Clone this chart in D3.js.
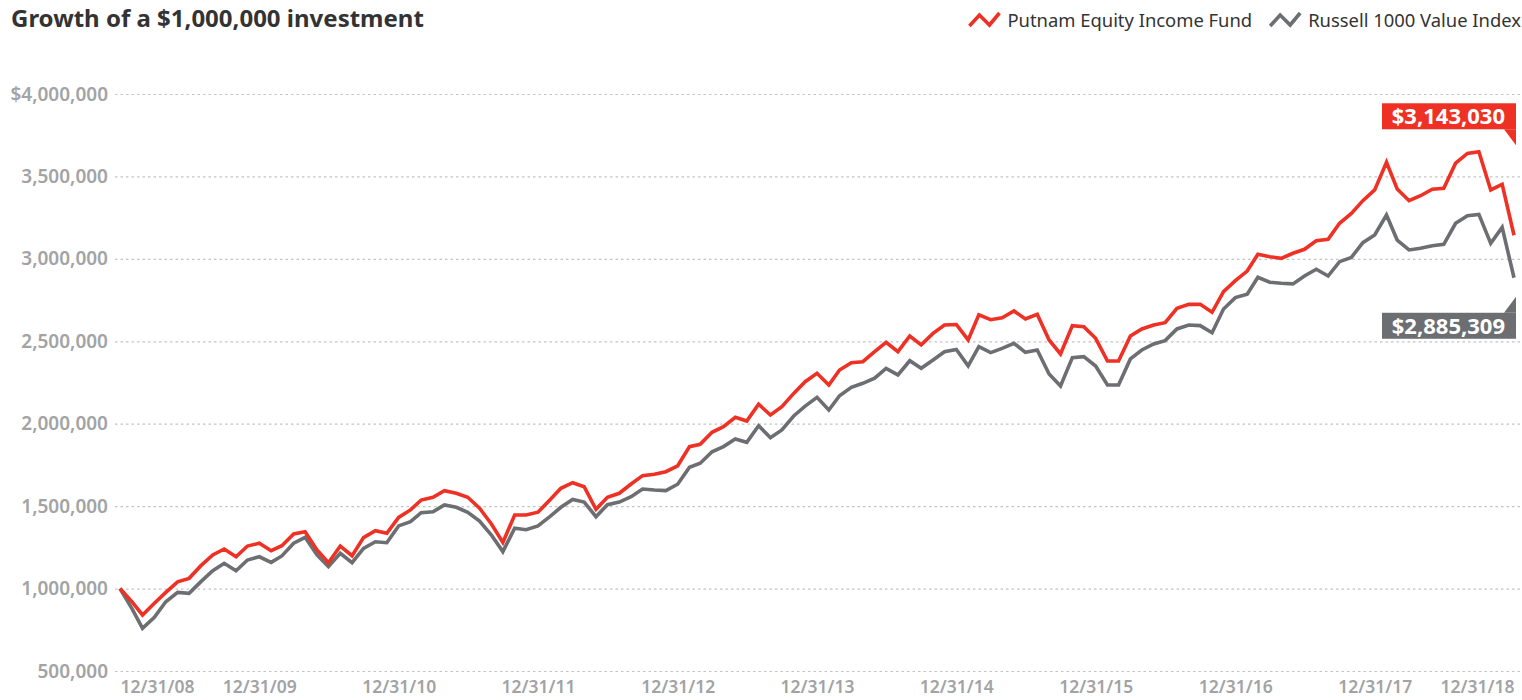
<!DOCTYPE html>
<html>
<head>
<meta charset="utf-8">
<script src="https://cdn.jsdelivr.net/npm/d3@7"></script>
<style>
  body { margin: 0; background: #fff; }
  text { font-family: "Noto Sans", "Open Sans", sans-serif; }
</style>
</head>
<body>
<svg id="chart"></svg>
<script>
// ---- data ----
const title = "Growth of a $1,000,000 investment"
const seriesNames = ["Putnam Equity Income Fund", "Russell 1000 Value Index"]
const seriesColors = ["#ee3124", "#6d6e71"]

// month-end values, 12/31/08 .. 12/31/18
const fundValues = [
  1000000, 921000, 840000, 911000, 977000, 1041000, 1062000, 1139000, 1204000, 1240000, 1193000, 1258000,
  1275000, 1230000, 1260000, 1331000, 1345000, 1234000, 1157000, 1258000, 1199000, 1309000, 1351000, 1335000,
  1432000, 1477000, 1537000, 1554000, 1594000, 1578000, 1554000, 1487000, 1392000, 1280000, 1446000, 1446000,
  1463000, 1537000, 1608000, 1642000, 1618000, 1481000, 1554000, 1578000, 1634000, 1685000, 1693000, 1709000,
  1745000, 1861000, 1875000, 1948000, 1982000, 2039000, 2016000, 2118000, 2053000, 2103000, 2184000, 2255000,
  2306000, 2235000, 2326000, 2370000, 2376000, 2437000, 2494000, 2437000, 2532000, 2478000, 2548000, 2599000,
  2602000, 2508000, 2660000, 2631000, 2643000, 2684000, 2635000, 2664000, 2508000, 2423000, 2595000, 2589000,
  2518000, 2380000, 2380000, 2532000, 2575000, 2599000, 2613000, 2700000, 2724000, 2724000, 2676000, 2801000,
  2868000, 2926000, 3028000, 3013000, 3003000, 3034000, 3058000, 3110000, 3119000, 3216000, 3276000, 3353000,
  3418000, 3586000, 3424000, 3353000, 3383000, 3422000, 3428000, 3580000, 3640000, 3650000, 3418000, 3452000,
  3143030
]
const indexValues = [
  1000000, 880000, 759000, 826000, 920000, 977000, 971000, 1042000, 1108000, 1153000, 1108000, 1173000,
  1193000, 1159000, 1198000, 1275000, 1311000, 1204000, 1133000, 1214000, 1157000, 1244000, 1284000, 1278000,
  1380000, 1406000, 1460000, 1466000, 1507000, 1493000, 1463000, 1410000, 1325000, 1224000, 1366000, 1357000,
  1380000, 1436000, 1493000, 1541000, 1525000, 1436000, 1509000, 1525000, 1557000, 1604000, 1598000, 1594000,
  1633000, 1736000, 1760000, 1830000, 1861000, 1907000, 1887000, 1988000, 1915000, 1962000, 2047000, 2107000,
  2160000, 2083000, 2170000, 2221000, 2245000, 2276000, 2336000, 2296000, 2382000, 2336000, 2387000, 2437000,
  2451000, 2351000, 2467000, 2431000, 2457000, 2488000, 2433000, 2447000, 2302000, 2229000, 2401000, 2407000,
  2350000, 2235000, 2235000, 2393000, 2447000, 2484000, 2504000, 2575000, 2599000, 2595000, 2552000, 2696000,
  2765000, 2785000, 2888000, 2858000, 2852000, 2848000, 2896000, 2937000, 2896000, 2983000, 3009000, 3098000,
  3145000, 3266000, 3114000, 3054000, 3064000, 3080000, 3088000, 3216000, 3262000, 3270000, 3094000, 3191000,
  2885309
]
const yTickValues = [500000, 1000000, 1500000, 2000000, 2500000, 3000000, 3500000, 4000000]
const xTickLabels = ["12/31/08", "12/31/09", "12/31/10", "12/31/11", "12/31/12", "12/31/13",
  "12/31/14", "12/31/15", "12/31/16", "12/31/17", "12/31/18"]

// month-end dates starting 12/31/08
const dates = fundValues.map((v, i) => new Date(2008, 12 + i, 0))
const parseTick = d3.timeParse("%m/%d/%y")

// ---- layout ----
const W = 1522, H = 700
const margin = { top: 94, right: 8, bottom: 29, left: 120 }
const gridLeft = 115

const svg = d3.select("#chart").attr("width", W).attr("height", H)

const x = d3.scaleTime()
  .domain(d3.extent(dates))
  .range([margin.left, W - margin.right])

const y = d3.scaleLinear()
  .domain([500000, 4000000])
  .range([H - margin.bottom, margin.top])

// title
svg.append("text")
  .attr("x", 11).attr("y", 27)
  .attr("font-size", 24).attr("font-weight", 700)
  .attr("fill", "#333")
  .text(title)

// y axis + dotted grid
const fmt = d3.format(",")
const yAxis = d3.axisLeft(y)
  .tickValues(yTickValues)
  .tickSize(-(W - gridLeft))
  .tickPadding(7)
  .tickFormat(d => (d === 4000000 ? "$" : "") + fmt(d))

const yAxisGroup = svg.append("g")
  .attr("transform", `translate(${gridLeft},0)`)
  .call(yAxis)
yAxisGroup.select(".domain").remove()
yAxisGroup.selectAll(".tick line")
  .attr("stroke", "#c4c4c4")
  .attr("stroke-width", 1.2)
  .attr("stroke-dasharray", "2.5,3")
yAxisGroup.selectAll(".tick text")
  .attr("font-family", "Noto Sans")
  .attr("font-size", 19).attr("font-weight", 600)
  .attr("fill", "#a2a3a5")

// x axis labels, clamped to the plot area
const xAxis = d3.axisBottom(x)
  .tickValues(xTickLabels.map(parseTick))
  .tickSize(0)
  .tickPadding(0)
  .tickFormat(d3.timeFormat("%m/%d/%y"))

const xAxisGroup = svg.append("g")
  .attr("transform", `translate(0,${H - 7})`)
  .call(xAxis)
xAxisGroup.select(".domain").remove()
xAxisGroup.selectAll(".tick text")
  .attr("font-family", "Noto Sans")
  .attr("font-size", 17.5).attr("font-weight", 600)
  .attr("fill", "#a2a3a5")
  .attr("dy", 0)
  .each(function(d) {
    const w = this.getComputedTextLength()
    const cx = x(d)
    const lo = x.range()[0] + w / 2, hi = x.range()[1] - w / 2
    const target = Math.max(lo, Math.min(hi, cx))
    d3.select(this).attr("x", target - cx)
  })

// lines
const line = d3.line()
  .x(d => x(d.date))
  .y(d => y(d.value))

const series = [indexValues, fundValues].map((vals, k) => ({
  color: k === 0 ? seriesColors[1] : seriesColors[0],
  data: vals.map((v, i) => ({ date: dates[i], value: v }))
}))

svg.selectAll("path.series")
  .data(series)
  .enter()
  .append("path")
  .attr("class", "series")
  .attr("fill", "none")
  .attr("stroke", d => d.color)
  .attr("stroke-width", 3.6)
  .attr("d", d => line(d.data))

// end labels
const xEnd = x(dates[dates.length - 1])
const boxW = 134, boxH = 26, tailW = 12, tailH = 16

function endLabel(value, color, above) {
  const yv = y(value)
  const g = svg.append("g")
  let boxTop
  if (above) {
    const tailBottom = yv - 90
    const tailTop = tailBottom - tailH
    boxTop = tailTop - boxH
    g.append("polygon")
      .attr("points", [[xEnd + 2 - tailW, tailTop], [xEnd + 2, tailTop], [xEnd + 2, tailBottom]].join(" "))
      .attr("fill", color)
  } else {
    const tailTop = yv + 19
    boxTop = tailTop + tailH
    g.append("polygon")
      .attr("points", [[xEnd + 2, tailTop], [xEnd + 2, boxTop], [xEnd + 2 - tailW, boxTop]].join(" "))
      .attr("fill", color)
  }
  g.append("rect")
    .attr("x", xEnd + 2 - boxW).attr("y", boxTop)
    .attr("width", boxW).attr("height", boxH)
    .attr("fill", color)
  g.append("text")
    .attr("x", xEnd - 9).attr("y", boxTop + boxH - 5)
    .attr("text-anchor", "end")
    .attr("font-size", 22).attr("font-weight", 700)
    .attr("fill", "#fff")
    .text("$" + fmt(value))
}
endLabel(fundValues[fundValues.length - 1], seriesColors[0], true)
endLabel(indexValues[indexValues.length - 1], seriesColors[1], false)

// legend, right aligned
const legend = svg.append("g")
let cursor = W - 1
const iconPts = [[0, 13], [10, 2], [20, 12], [30, 0]]
for (let k = seriesNames.length - 1; k >= 0; k--) {
  const t = legend.append("text")
    .attr("y", 27)
    .attr("font-size", 18.4)
    .attr("fill", "#333")
    .text(seriesNames[k])
  const w = t.node().getComputedTextLength()
  const tx = cursor - w
  t.attr("x", tx)
  const ix = tx - 38
  legend.append("path")
    .attr("d", d3.line()(iconPts.map(p => [ix + p[0], 13 + p[1]])))
    .attr("fill", "none")
    .attr("stroke", seriesColors[k])
    .attr("stroke-width", 3.6)
  cursor = ix - 18
}
</script>
</body>
</html>
